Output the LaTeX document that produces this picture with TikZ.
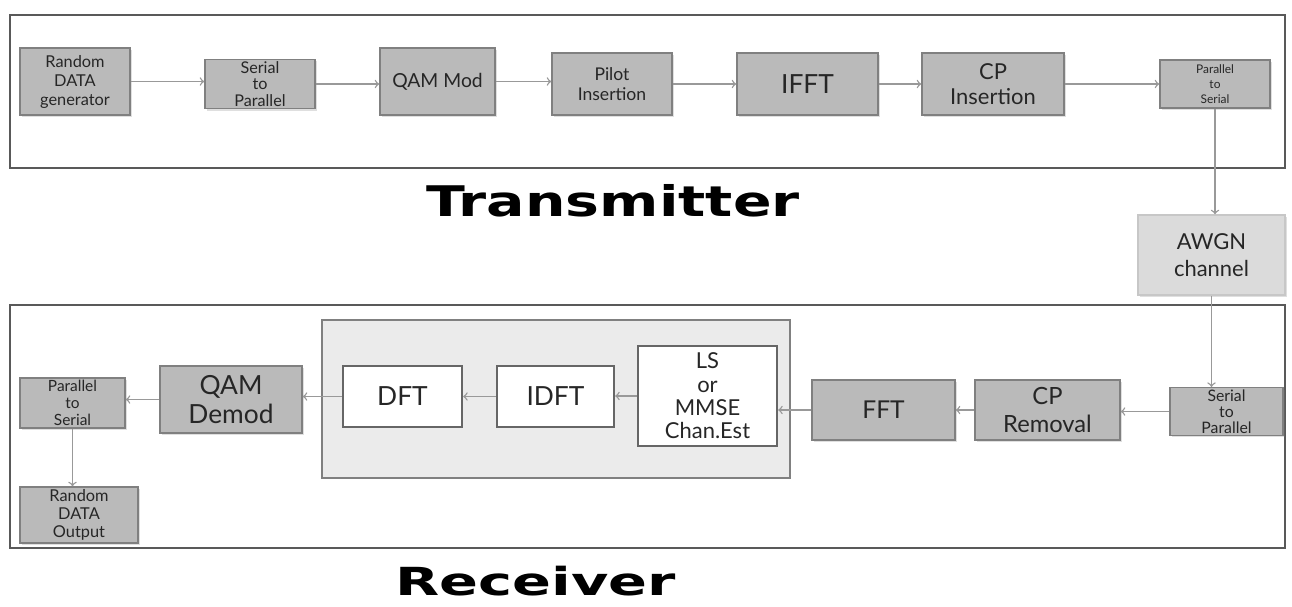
\documentclass[tikz,border=0pt]{standalone}
\usepackage{fontspec}
\setmainfont{Lato}
\newfontfamily\headfont{DejaVu Sans}
\usetikzlibrary{positioning,shadows}

\newcommand{\bsize}[2]{\fontsize{#1}{#2}\selectfont}

\tikzset{
  blk/.style={draw=black!50, line width=0.9pt, fill=black!27, text=black!85,
    align=center, inner sep=1pt,
    drop shadow={opacity=0.25, shadow xshift=1.2pt, shadow yshift=-1.2pt}},
  chan/.style={blk, fill=black!14, draw=black!22},
  wblk/.style={draw=black!60, line width=1.3pt, fill=white, text=black!85, align=center, inner sep=1pt},
  frame/.style={draw=black!65, line width=1.3pt},
  flow/.style={->, draw=black!40, line width=0.8pt},
  heading/.style={font=\headfont\bfseries\bsize{24}{28}, xscale=1.35, inner sep=0pt},
}

\begin{document}
\begin{tikzpicture}[x=0.02cm, y=-0.02cm]
  \useasboundingbox (0,0) rectangle (1292,606);

  % transmitter chain
  \draw[frame] (10,15) rectangle (1285,168);
  \node[blk, minimum width=2.2cm, minimum height=1.34cm, font=\bsize{9.3}{10.8}] (rdg) at (75,81.5) {Random\\DATA\\generator};
  \node[blk, minimum width=2.2cm, minimum height=0.96cm, font=\bsize{9.2}{9.6}] (sptx) at (260,84) {Serial\\to\\Parallel};
  \node[blk, minimum width=2.3cm, minimum height=1.34cm, font=\bsize{11}{12}] (qam) at (437.5,81.5) {QAM Mod};
  \node[blk, minimum width=2.4cm, minimum height=1.24cm, font=\bsize{10}{11.5}] (pilot) at (612,84) {Pilot\\Insertion};
  \node[blk, minimum width=2.82cm, minimum height=1.24cm, font=\bsize{15}{17}] (ifft) at (807.5,84) {IFFT};
  \node[blk, minimum width=2.84cm, minimum height=1.24cm, font=\bsize{12.5}{14.5}] (cpi) at (993,84) {CP\\Insertion};
  \node[blk, minimum width=2.2cm, minimum height=0.96cm, font=\bsize{6.8}{8.6}] (pstx) at (1215,84) {Parallel\\to\\Serial};

  \draw[flow] (rdg.east) -- (rdg.east -| sptx.west);
  \draw[flow] (sptx.east) -- (sptx.east -| qam.west);
  \draw[flow] (qam.east) -- (qam.east -| pilot.west);
  \draw[flow] (pilot.east) -- (pilot.east -| ifft.west);
  \draw[flow] (ifft.east) -- (ifft.east -| cpi.west);
  \draw[flow] (cpi.east) -- (cpi.east -| pstx.west);

  \node[heading] (txtitle) at (613,201) {Transmitter};

  % channel
  \node[chan, minimum width=2.94cm, minimum height=1.6cm, font=\bsize{12.5}{15}] (awgn) at (1211.5,255) {AWGN\\channel};
  \draw[flow] (pstx.south) -- (pstx.south |- awgn.north);

  % receiver chain
  \draw[frame] (10,305) rectangle (1285,548);
  \draw[draw=black!50, line width=1pt, fill=black!8] (322,320) rectangle (790,478);

  \node[blk, minimum width=2.26cm, minimum height=0.94cm, font=\bsize{9}{9.2}] (sprx) at (1226.5,411.5) {Serial\\to\\Parallel};
  \node[blk, minimum width=2.9cm, minimum height=1.2cm, font=\bsize{13.5}{15.5}] (cpr) at (1047.5,410) {CP\\Removal};
  \node[blk, minimum width=2.86cm, minimum height=1.2cm, font=\bsize{14}{16}] (fft) at (883.5,410) {FFT};
  \node[wblk, minimum width=2.78cm, minimum height=2cm, font=\bsize{12.5}{13.3}] (chest) at (707.5,396) {LS\\or\\MMSE\\Chan.Est};
  \node[wblk, minimum width=2.34cm, minimum height=1.22cm, font=\bsize{15}{17}] (idft) at (555.5,396.5) {IDFT};
  \node[wblk, minimum width=2.38cm, minimum height=1.22cm, font=\bsize{15}{17}] (dft) at (402.5,396.5) {DFT};
  \node[blk, minimum width=2.84cm, minimum height=1.34cm, font=\bsize{15}{17}] (qamd) at (231,399.5) {QAM\\Demod};
  \node[blk, minimum width=2.1cm, minimum height=1cm, font=\bsize{8.8}{9.6}] (psrx) at (72.5,403) {Parallel\\to\\Serial};
  \node[blk, minimum width=2.36cm, minimum height=1.12cm, font=\bsize{9.3}{10.4}] (rdo) at (79,515) {Random\\DATA\\Output};

  \draw[flow] (awgn.south) -- (awgn.south |- sprx.north);
  \draw[flow] (sprx.west) -- (sprx.west -| cpr.east);
  \draw[flow] (cpr.west) -- (cpr.west -| fft.east);
  \draw[flow] (fft.west) -- (fft.west -| chest.east);
  \draw[flow] (chest.west) -- (chest.west -| idft.east);
  \draw[flow] (idft.west) -- (idft.west -| dft.east);
  \draw[flow] (dft.west) -- (dft.west -| qamd.east);
  \draw[flow] (qamd.west) -- (qamd.west -| psrx.east);
  \draw[flow] (psrx.south) -- (psrx.south |- rdo.north);

  \node[heading, font=\headfont\bfseries\bsize{22}{26}, xscale=1.1] (rxtitle) at (536,581) {Receiver};
\end{tikzpicture}
\end{document}
